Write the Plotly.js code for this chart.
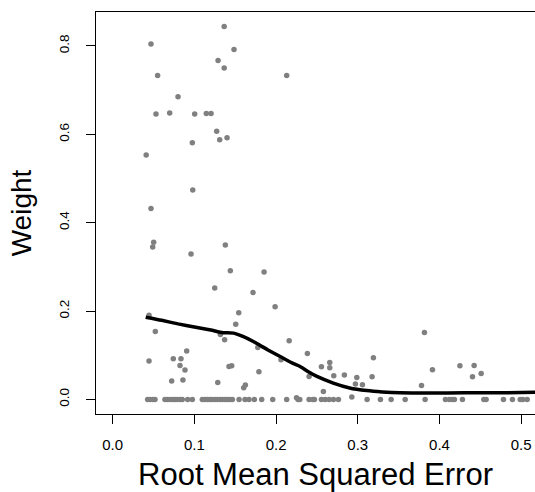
<!DOCTYPE html>
<html>
<head>
<meta charset="utf-8">
<script src="https://cdn.plot.ly/plotly-3.0.1.min.js"></script>
<style>html,body{margin:0;padding:0;background:#fff;}#chart{width:535px;height:492px;}</style>
</head>
<body>
<div id="chart"></div>
<script>
// Scatter points: root mean squared error vs weight
const rmse = [
  0.1365, 0.0469, 0.1485, 0.129, 0.1365, 0.055, 0.213, 0.080, 0.053, 0.0698,
  0.1004, 0.1146, 0.1204, 0.1273, 0.131, 0.140, 0.0975, 0.041, 0.098, 0.0469,
  0.0502, 0.049, 0.0959, 0.1379, 0.144, 0.1853, 0.1249, 0.1718, 0.1988, 0.1543,
  0.1506, 0.0445, 0.0522, 0.1318, 0.137, 0.216, 0.2383, 0.1776, 0.206, 0.0906,
  0.0742, 0.0836, 0.0824, 0.0885, 0.0445, 0.1424, 0.1457, 0.179, 0.0722, 0.086,
  0.1286, 0.1624, 0.1604, 0.2404, 0.225,
  0.3816, 0.3191, 0.2555, 0.2657, 0.2657, 0.2706, 0.2836, 0.2988, 0.2971, 0.3057,
  0.3175, 0.2579, 0.2927, 0.3914, 0.378, 0.425, 0.4424, 0.4404, 0.451,
  // zero-weight points
  0.0428, 0.0457, 0.049, 0.0518, 0.064, 0.067, 0.070, 0.0735, 0.0763, 0.079,
  0.0824, 0.0852, 0.0918, 0.0975, 0.1097, 0.113, 0.1159, 0.119, 0.122, 0.1253,
  0.128, 0.1314, 0.1342, 0.1375, 0.1404, 0.1436, 0.1465, 0.1547, 0.162, 0.1669,
  0.1734, 0.1824, 0.1959, 0.213, 0.2269, 0.229, 0.2404, 0.2449, 0.2469, 0.2555,
  0.26, 0.2649, 0.2702, 0.2763, 0.3114, 0.3277, 0.3408, 0.358, 0.3824, 0.4073,
  0.4122, 0.4159, 0.4183, 0.4281, 0.4543, 0.4571, 0.4783, 0.4893, 0.4988, 0.502,
  0.5073
];
const weight = [
  0.844, 0.8045, 0.792, 0.767, 0.750, 0.733, 0.733, 0.685, 0.646, 0.648,
  0.646, 0.647, 0.647, 0.607, 0.5876, 0.592, 0.581, 0.553, 0.474, 0.432,
  0.3557, 0.345, 0.329, 0.3496, 0.291, 0.2886, 0.2524, 0.2418, 0.2095, 0.196,
  0.1704, 0.1907, 0.1537, 0.147, 0.135, 0.1327, 0.104, 0.1176, 0.0897, 0.1093,
  0.092, 0.092, 0.0768, 0.0664, 0.0867, 0.0746, 0.076, 0.0626, 0.0416, 0.0438,
  0.0384, 0.0325, 0.0264, 0.052, 0.004,
  0.1514, 0.0942, 0.0739, 0.0836, 0.0716, 0.0536, 0.0551, 0.0497, 0.0348, 0.0332,
  0.0513, 0.018, 0.0054, 0.0671, 0.0316, 0.076, 0.0768, 0.0513, 0.0588,
  0, 0, 0, 0, 0, 0, 0, 0, 0, 0,
  0, 0, 0, 0, 0, 0, 0, 0, 0, 0,
  0, 0, 0, 0, 0, 0, 0, 0, 0, 0,
  0, 0, 0, 0, 0, 0, 0, 0, 0, 0,
  0, 0, 0, 0, 0, 0, 0, 0, 0, 0,
  0, 0, 0, 0, 0, 0, 0, 0, 0, 0,
  0
];
// Smoothed fit curve
const fitX = [0.0404, 0.060, 0.080, 0.100, 0.120, 0.135, 0.148, 0.160, 0.176, 0.190,
  0.205, 0.220, 0.2294, 0.240, 0.250, 0.270, 0.290, 0.311, 0.330, 0.352,
  0.390, 0.430, 0.470, 0.517];
const fitY = [0.186, 0.179, 0.171, 0.164, 0.157, 0.151, 0.150, 0.142, 0.127, 0.112,
  0.097, 0.082, 0.0746, 0.062, 0.052, 0.037, 0.026, 0.020, 0.017, 0.015,
  0.0145, 0.015, 0.015, 0.016];
const xTicks = [0.0, 0.1, 0.2, 0.3, 0.4, 0.5];
const xTickText = ["0.0", "0.1", "0.2", "0.3", "0.4", "0.5"];
const yTicks = [0.0, 0.2, 0.4, 0.6, 0.8];
const yTickText = ["0.0", "0.2", "0.4", "0.6", "0.8"];

const font = "Liberation Sans, Arial, Helvetica, sans-serif";

const traces = [
  {
    x: rmse, y: weight, type: "scatter", mode: "markers",
    marker: {color: "#808080", size: 5.5},
    hoverinfo: "x+y"
  },
  {
    x: fitX, y: fitY, type: "scatter", mode: "lines",
    line: {color: "#000000", width: 3.5, shape: "spline", smoothing: 0.6},
    hoverinfo: "skip"
  }
];

const layout = {
  width: 535, height: 492,
  margin: {l: 96, r: 0, t: 12, b: 78},
  paper_bgcolor: "#ffffff", plot_bgcolor: "#ffffff",
  showlegend: false,
  font: {family: font, color: "#000000"},
  xaxis: {
    range: [-0.0204, 0.5169], autorange: false,
    tickvals: xTicks, ticktext: xTickText,
    ticks: "outside", ticklen: 9, tickwidth: 1, tickcolor: "#000",
    showline: true, mirror: true, linecolor: "#000", linewidth: 1,
    showgrid: false, zeroline: false,
    tickfont: {family: font, size: 15, color: "#000"},
    ticklabelstandoff: 8,
    title: {text: "Root Mean Squared Error", font: {family: font, size: 31, color: "#000"}, standoff: 14},
    automargin: false
  },
  yaxis: {
    range: [-0.033, 0.8768], autorange: false,
    tickvals: yTicks, ticktext: yTickText, tickangle: -90,
    ticks: "outside", ticklen: 9, tickwidth: 1, tickcolor: "#000",
    showline: true, mirror: false, linecolor: "#000", linewidth: 1,
    showgrid: false, zeroline: false,
    tickfont: {family: font, size: 13.5, color: "#000"},
    ticklabelstandoff: 12,
    title: {text: "Weight", font: {family: font, size: 28, color: "#000"}, standoff: 16},
    automargin: false
  }
};

Plotly.newPlot("chart", traces, layout, {staticPlot: true, displayModeBar: false});
</script>
</body>
</html>
